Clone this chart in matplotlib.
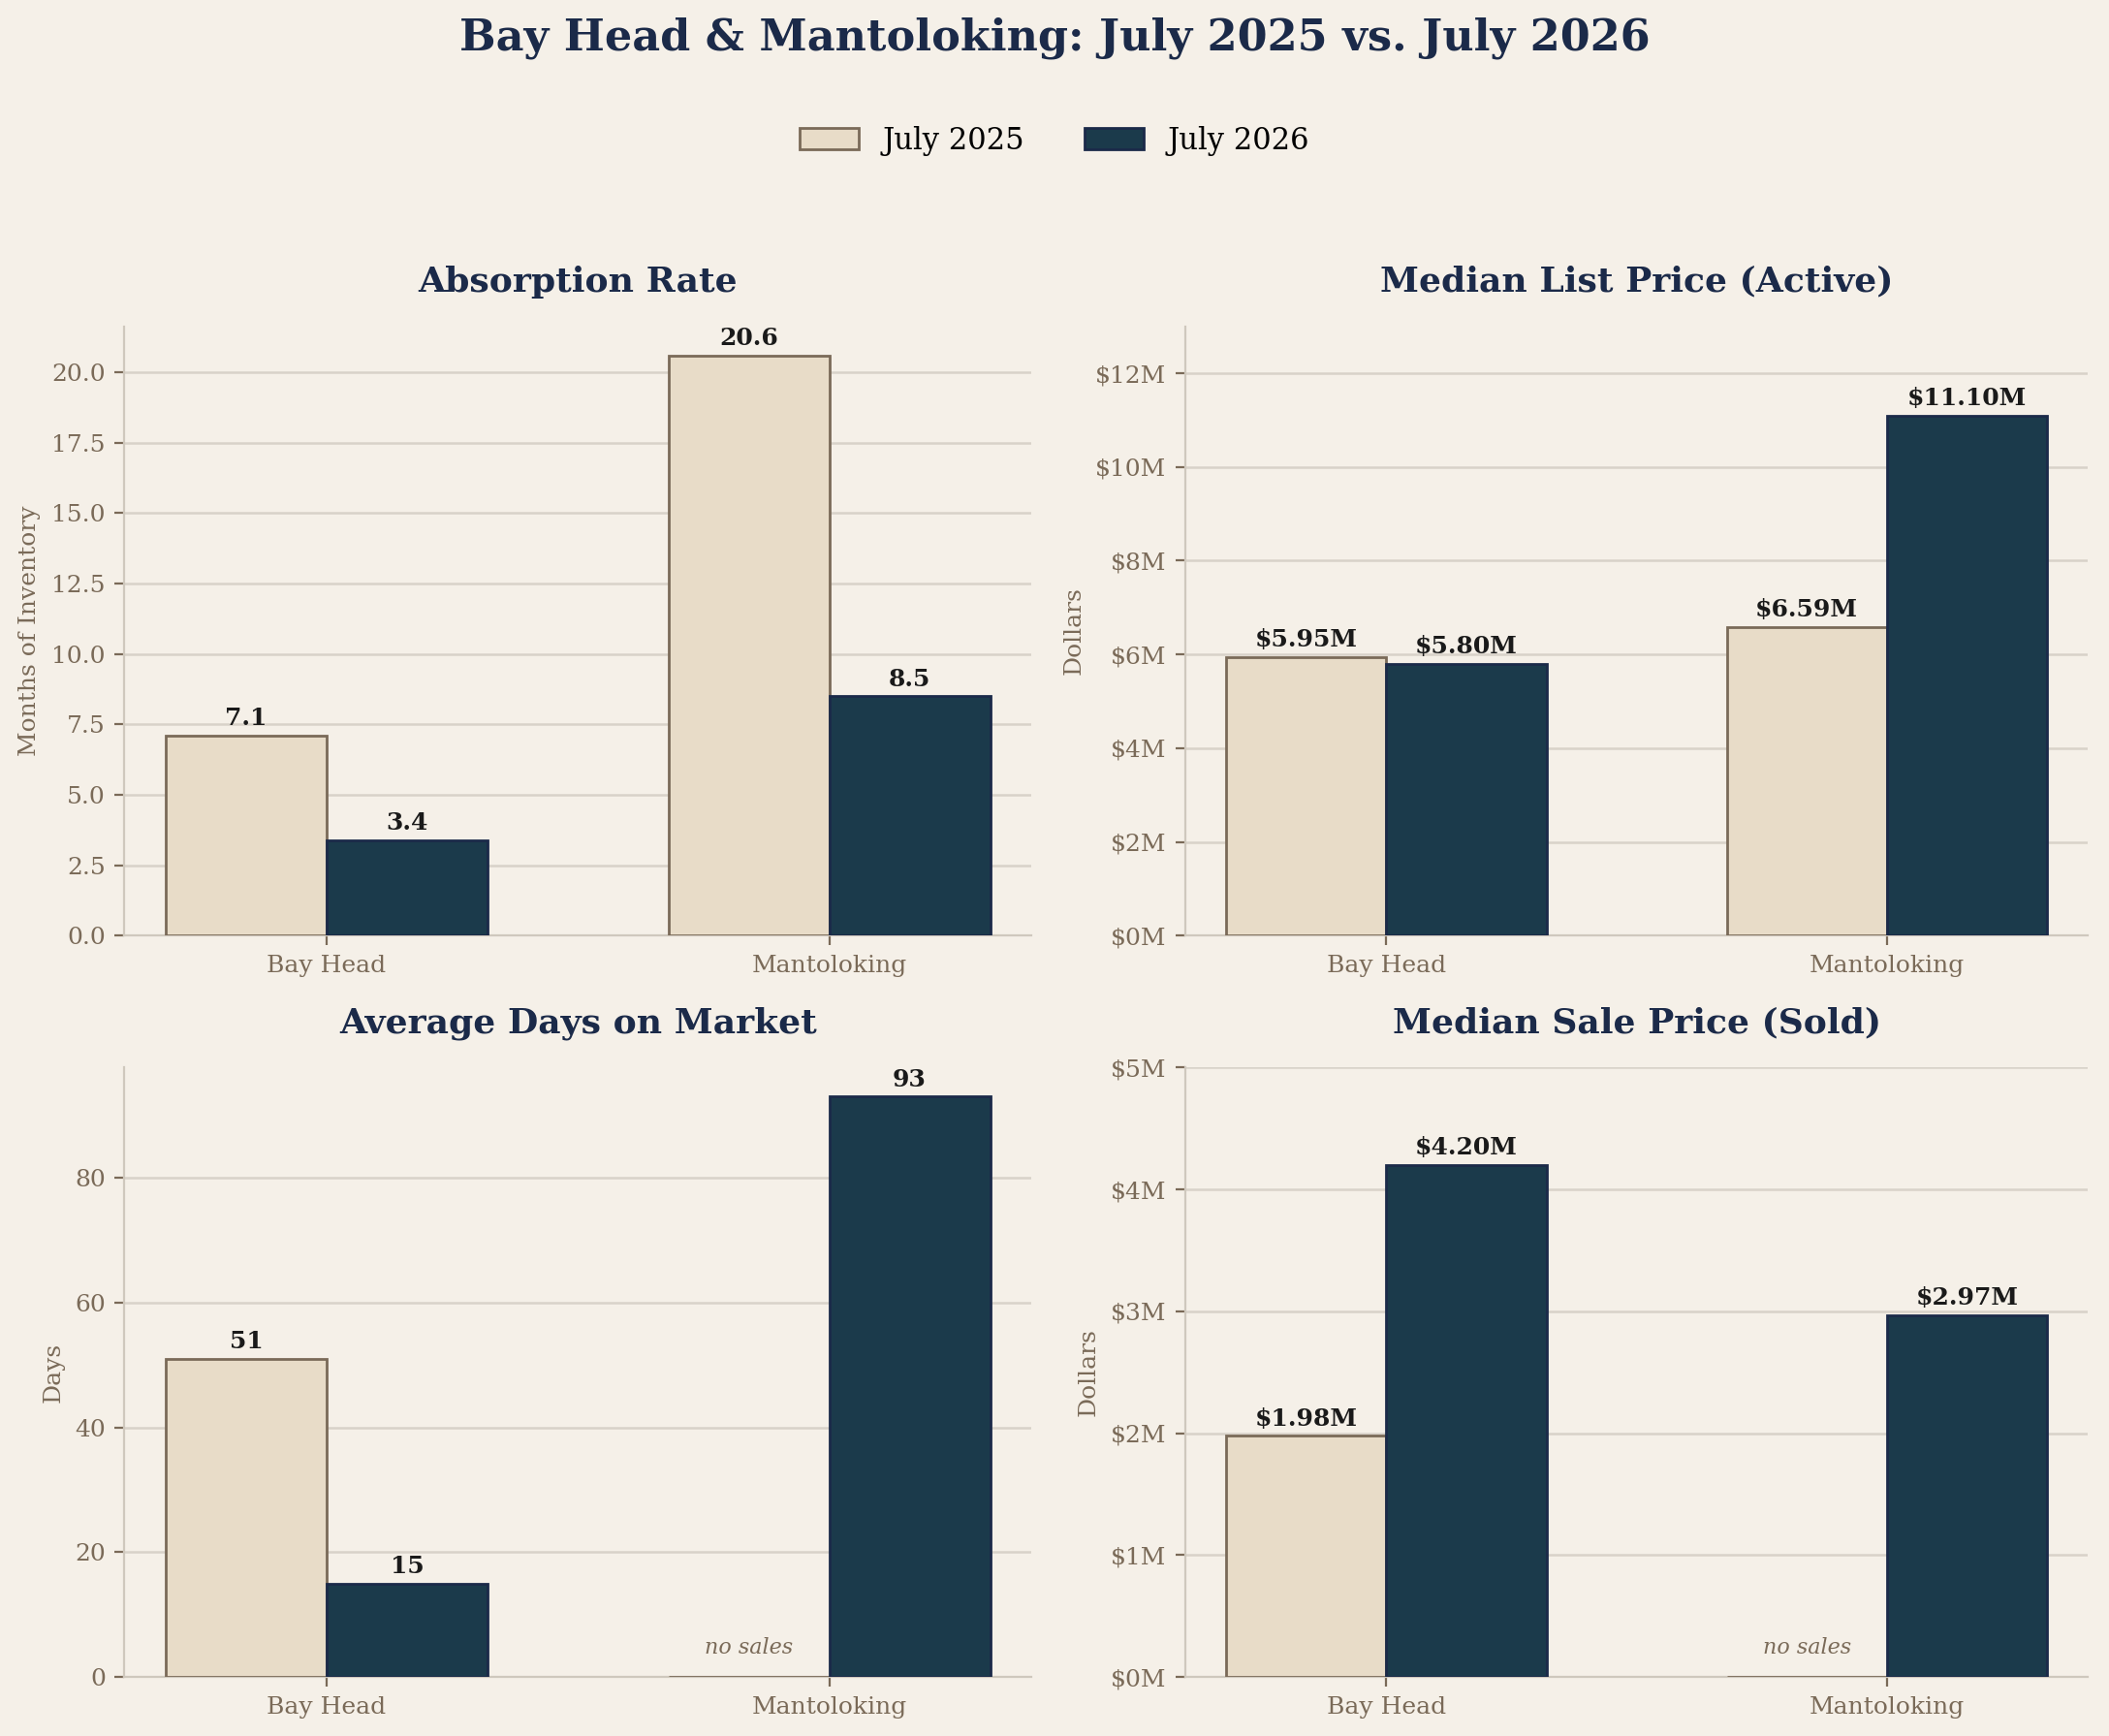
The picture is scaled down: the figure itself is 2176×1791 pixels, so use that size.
import matplotlib
matplotlib.use("Agg")
import matplotlib.pyplot as plt
import numpy as np

### --- data
towns = ["Bay Head", "Mantoloking"]
series_names = ["July 2025", "July 2026"]

absorption_2025 = [7.1, 20.6]
absorption_2026 = [3.4, 8.5]

list_price_2025 = [5.95, 6.59]    # $M
list_price_2026 = [5.80, 11.10]

days_2025 = [51, None]   # None = no sales
days_2026 = [15, 93]

sale_price_2025 = [1.98, None]   # $M
sale_price_2026 = [4.20, 2.97]

### --- style
BG = "#f5f0e8"
LIGHT = "#e8dcc8"
LIGHT_EDGE = "#7a6a58"
DARK = "#1b3a4b"
DARK_EDGE = "#1b2a49"
NAVY = "#1b2a49"
MUTED = "#7a6a58"
GRID = "#d8d2c9"

plt.rcParams["font.family"] = ["DejaVu Serif"]

fig = plt.figure(figsize=(10.88, 8.955), dpi=200, facecolor=BG)

positions = {
    "tl": [0.059, 0.461, 0.430, 0.351],
    "tr": [0.562, 0.461, 0.428, 0.351],
    "bl": [0.059, 0.034, 0.430, 0.351],
    "br": [0.562, 0.034, 0.428, 0.351],
}


def draw_panel(ax, v25, v26, title, ylabel, ylim_top, fmt, money=False):
    ### --- one grouped bar panel
    x = np.arange(len(towns))
    w = 0.32
    h25 = [0 if v is None else v for v in v25]
    h26 = [0 if v is None else v for v in v26]

    ax.set_facecolor(BG)
    b1 = ax.bar(x - w / 2, h25, w, color=LIGHT, edgecolor=LIGHT_EDGE,
                linewidth=1.0, label=series_names[0], zorder=3)
    b2 = ax.bar(x + w / 2, h26, w, color=DARK, edgecolor=DARK_EDGE,
                linewidth=1.0, label=series_names[1], zorder=3)

    ax.set_ylim(0, ylim_top)

    for bars, vals in ((b1, v25), (b2, v26)):
        for rect, v in zip(bars, vals):
            cx = rect.get_x() + rect.get_width() / 2
            if v is None:
                ax.text(cx, ylim_top * 0.03, "no sales", ha="center", va="bottom",
                        fontsize=8, style="italic", color=MUTED, zorder=4)
                continue
            ax.annotate(fmt(v), (cx, v), xytext=(0, 2), textcoords="offset points",
                        ha="center", va="bottom", fontsize=9, fontweight="bold",
                        color="#1a1a1a", zorder=4)

    ax.set_title(title, fontsize=13, fontweight="bold", color=NAVY, pad=13)
    ax.set_ylabel(ylabel, fontsize=9, color=MUTED)
    ax.set_xticks(x)
    ax.set_xticklabels(towns)
    ax.tick_params(axis="both", colors=MUTED, labelsize=9, labelcolor=MUTED)
    ax.yaxis.grid(True, color=GRID, linewidth=0.9, zorder=0)
    ax.set_axisbelow(True)
    for side in ("top", "right"):
        ax.spines[side].set_visible(False)
    for side in ("left", "bottom"):
        ax.spines[side].set_color("#cfc8bd")
    if money:
        ax.yaxis.set_major_formatter(plt.FuncFormatter(lambda y, p: "${:.0f}M".format(y)))
    return b1, b2


ax1 = fig.add_axes(positions["tl"])
bars = draw_panel(ax1, absorption_2025, absorption_2026, "Absorption Rate",
                  "Months of Inventory", max(absorption_2025) * 1.05,
                  lambda v: "{:.1f}".format(v))

ax2 = fig.add_axes(positions["tr"])
draw_panel(ax2, list_price_2025, list_price_2026, "Median List Price (Active)",
           "Dollars", 13.0, lambda v: "${:.2f}M".format(v), money=True)
ax2.set_yticks(np.arange(0, 13, 2))

ax3 = fig.add_axes(positions["bl"])
draw_panel(ax3, days_2025, days_2026, "Average Days on Market",
           "Days", max(days_2026) * 1.05, lambda v: "{:.0f}".format(v))

ax4 = fig.add_axes(positions["br"])
draw_panel(ax4, sale_price_2025, sale_price_2026, "Median Sale Price (Sold)",
           "Dollars", 5.0, lambda v: "${:.2f}M".format(v), money=True)
ax4.set_yticks(np.arange(0, 6, 1))

fig.suptitle("Bay Head & Mantoloking: July 2025 vs. July 2026", fontsize=16,
             fontweight="bold", color=NAVY, y=0.99)
fig.legend(bars, series_names, loc="center", bbox_to_anchor=(0.5, 0.919),
           ncol=2, frameon=False, fontsize=11, handlelength=2.0,
           columnspacing=2.0)

fig.savefig("out.png", dpi=200, facecolor=BG)
